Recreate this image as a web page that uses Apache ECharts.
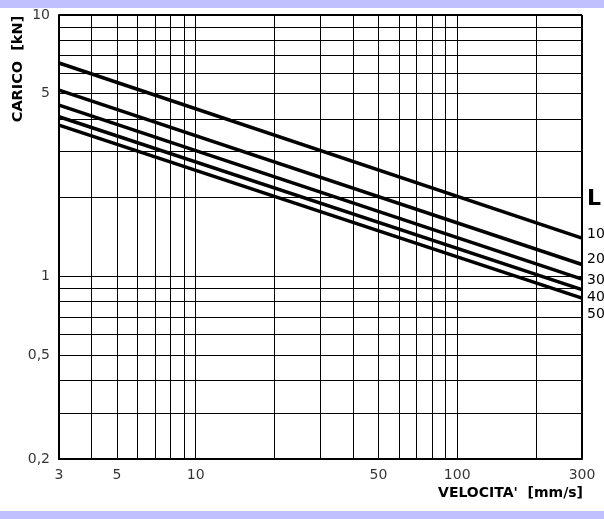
<!DOCTYPE html>
<html>
<head>
<meta charset="utf-8">
<script src="https://cdn.jsdelivr.net/npm/echarts@6/dist/echarts.min.js"></script>
<style>
  html, body { margin: 0; padding: 0; background: #fff; }
  #chart { width: 604px; height: 519px; }
</style>
</head>
<body>
<div id="chart"></div>
<script>
// ---- data ----
const speedEnds = [3, 300];             // mm/s, line end points on x
const loadL100 = [6.55, 1.40];          // kN
const loadL200 = [5.16, 1.11];
const loadL300 = [4.52, 0.975];
const loadL400 = [4.08, 0.89];
const loadL500 = [3.79, 0.825];
const lengthLabels = ['100', '200', '300', '400', '500'];

const xTickValues = [3, 5, 10, 50, 100, 300];
const xTickLabels = ['3', '5', '10', '50', '100', '300'];
const yTickValues = [10, 5, 1, 0.5, 0.2];
const yTickLabels = ['10', '5', '1', '0,5', '0,2'];

const xGridValues = [4, 5, 6, 7, 8, 9, 10, 20, 30, 40, 50, 60, 70, 80, 90, 100, 200];
const yGridValues = [0.3, 0.4, 0.5, 0.6, 0.7, 0.8, 0.9, 1, 2, 3, 4, 5, 6, 7, 8, 9];

// ---- chart ----
const chart = echarts.init(document.getElementById('chart'), null, { renderer: 'canvas' });
const FONT = 'DejaVu Sans';
const loads = [loadL100, loadL200, loadL300, loadL400, loadL500];

const lineSeries = loads.map((vals, i) => ({
  type: 'line',
  name: lengthLabels[i],
  data: speedEnds.map((x, j) => [x, vals[j]]),
  symbol: 'none',
  lineStyle: { color: '#000', width: 3.5 },
  silent: true,
  z: 5
}));

const gridSeries = {
  type: 'line',
  data: [],
  silent: true,
  markLine: {
    silent: true,
    symbol: 'none',
    label: { show: false },
    lineStyle: { color: '#000', width: 1, type: 'solid' },
    data: [
      ...xGridValues.map(v => ({ xAxis: v })),
      ...yGridValues.map(v => ({ yAxis: v }))
    ]
  }
};

const borderSeries = {
  type: 'line',
  data: [],
  silent: true,
  markLine: {
    silent: true,
    symbol: 'none',
    label: { show: false },
    lineStyle: { color: '#000', width: 2, type: 'solid' },
    data: [
      { xAxis: speedEnds[1] },
      { yAxis: yTickValues[0] }
    ]
  }
};

const xLabelSeries = {
  type: 'scatter',
  data: xTickValues.map(v => [v, yTickValues[yTickValues.length - 1]]),
  symbolSize: 0,
  clip: false,
  silent: true,
  label: {
    show: true,
    position: 'bottom',
    distance: 9,
    color: '#000',
    fontFamily: FONT,
    fontSize: 14,
    formatter: p => xTickLabels[p.dataIndex]
  }
};

const yLabelSeries = {
  type: 'scatter',
  data: yTickValues.map(v => [speedEnds[0], v]),
  symbolSize: 0,
  clip: false,
  silent: true,
  label: {
    show: true,
    position: 'left',
    distance: 9,
    color: '#000',
    fontFamily: FONT,
    fontSize: 14,
    formatter: p => yTickLabels[p.dataIndex]
  }
};

const rightLabelY = [234, 259, 280, 297, 314];

chart.setOption({
  backgroundColor: '#fff',
  animation: false,
  grid: { left: 59, right: 22, top: 15, bottom: 60, containLabel: false },
  xAxis: {
    type: 'log', logBase: 10, min: 3, max: 300,
    axisLine: { show: true, onZero: false, lineStyle: { color: '#000', width: 2 } },
    axisTick: { show: false },
    axisLabel: { show: false },
    splitLine: { show: false },
    minorSplitLine: { show: false }
  },
  yAxis: {
    type: 'log', logBase: 10, min: 0.2, max: 10,
    axisLine: { show: true, onZero: false, lineStyle: { color: '#000', width: 2 } },
    axisTick: { show: false },
    axisLabel: { show: false },
    splitLine: { show: false }
  },
  series: [gridSeries, borderSeries, ...lineSeries, xLabelSeries, yLabelSeries],
  graphic: [
    { type: 'rect', shape: { x: 0, y: 0, width: 604, height: 8 }, style: { fill: '#c0c0ff' }, silent: true },
    { type: 'rect', shape: { x: 0, y: 511, width: 604, height: 8 }, style: { fill: '#c0c0ff' }, silent: true },
    {
      type: 'text', x: 18, y: 69, rotation: Math.PI / 2,
      style: { text: 'CARICO  [kN]', fill: '#000', font: 'bold 14.5px "DejaVu Sans"', align: 'center', verticalAlign: 'middle' }
    },
    {
      type: 'text', x: 583, y: 493,
      style: { text: "VELOCITA'  [mm/s]", fill: '#000', font: 'bold 14px "DejaVu Sans"', align: 'right', verticalAlign: 'middle' }
    },
    {
      type: 'text', x: 587, y: 199,
      style: { text: 'L', fill: '#000', font: 'bold 22px "DejaVu Sans"', align: 'left', verticalAlign: 'middle' }
    },
    ...lengthLabels.map((t, i) => ({
      type: 'text', x: 587, y: rightLabelY[i],
      style: { text: t, fill: '#000', font: '14px "DejaVu Sans"', align: 'left', verticalAlign: 'middle' }
    }))
  ]
});
</script>
</body>
</html>
